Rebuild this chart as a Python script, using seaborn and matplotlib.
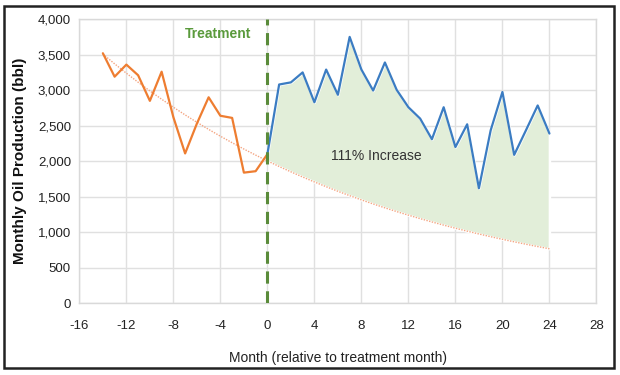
import numpy as np
import pandas as pd
import seaborn as sns
import matplotlib.pyplot as plt
from matplotlib.ticker import FuncFormatter, MultipleLocator
from matplotlib.patches import Rectangle

# pre-treatment production
pre_months = list(range(-14, 1))
pre_oil = [3520, 3190, 3360, 3210, 2850, 3260, 2620, 2110, 2530, 2900,
           2640, 2610, 1840, 1860, 2100]

# post-treatment production
post_months = list(range(0, 25))
post_oil = [2100, 3080, 3110, 3250, 2830, 3290, 2935, 3750, 3290, 2995,
            3390, 3005, 2760, 2600, 2310, 2760, 2200, 2520, 1620, 2435,
            2975, 2090, 2435, 2785, 2390]

trend_months = list(range(-14, 25))

pre = pd.DataFrame({"month": pre_months, "oil": pre_oil})
post = pd.DataFrame({"month": post_months, "oil": post_oil})

# exponential trend fitted to pre-treatment data, extended forward
k, b = np.polyfit(pre["month"], np.log(pre["oil"]), 1)
trend = pd.DataFrame({"month": trend_months})
trend["oil"] = np.exp(b + k * trend["month"])

sns.set_theme(style="whitegrid")
plt.rcParams["font.family"] = ["Liberation Sans", "DejaVu Sans"]
plt.rcParams["axes.unicode_minus"] = False

fig = plt.figure(figsize=(6.2, 3.75), dpi=100)
ax = fig.add_axes([0.128, 0.191, 0.834, 0.758])

# shaded increase between trend and post-treatment line
base = np.exp(b + k * post["month"])
ax.fill_between(post["month"], base, post["oil"], color="#e2eed9",
                edgecolor="white", linewidth=1.8, zorder=1)

sns.lineplot(data=trend, x="month", y="oil", ax=ax, color="#f4a582",
             linestyle=(0, (1, 1)), linewidth=1.0, zorder=2)
sns.lineplot(data=pre, x="month", y="oil", ax=ax, color="#ee7d31",
             linewidth=1.6, zorder=3)
sns.lineplot(data=post, x="month", y="oil", ax=ax, color="#3b7cc2",
             linewidth=1.6, zorder=3)

ax.axvline(0, color="#5a8b3a", linestyle=(0, (4, 2.5)), linewidth=2.2, zorder=4)
ax.text(-4.2, 3790, "Treatment", color="#5a9a3c", fontweight="bold",
        fontsize=10, ha="center", va="center")
ax.text(9.3, 2080, "111% Increase", color="#333333", fontsize=10,
        ha="center", va="center")

ax.set_xlim(-16, 28)
ax.set_ylim(0, 4000)
ax.xaxis.set_major_locator(MultipleLocator(4))
ax.yaxis.set_major_locator(MultipleLocator(500))
ax.yaxis.set_major_formatter(FuncFormatter(lambda v, p: f"{int(v):,}"))
ax.tick_params(axis="both", labelsize=9.5, colors="#222222", length=0)
ax.tick_params(axis="x", pad=12)
ax.tick_params(axis="y", pad=6)

ax.grid(True, color="#e0e0e0", linewidth=1.0)
for s in ax.spines.values():
    s.set_visible(True)
    s.set_color("#d9d9d9")
    s.set_linewidth(1.0)

ax.set_xlabel("Month (relative to treatment month)", fontsize=10,
              color="#222222", labelpad=14)
ax.set_ylabel("Monthly Oil Production (bbl)", fontsize=11,
              fontweight="bold", color="#111111", labelpad=8)

# frame around the whole figure
fig.patches.append(Rectangle((0.006, 0.019), 0.984, 0.966,
                             transform=fig.transFigure, fill=False,
                             edgecolor="#222222", linewidth=1.8))

plt.savefig("out.png", dpi=100)
